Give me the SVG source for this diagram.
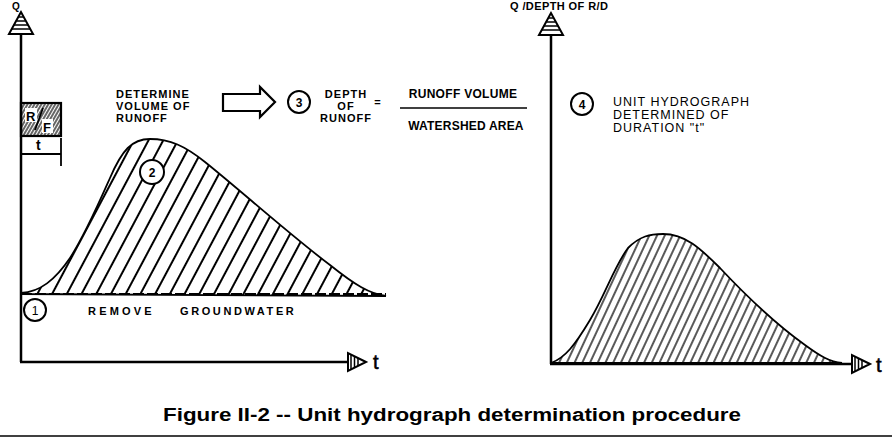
<svg xmlns="http://www.w3.org/2000/svg" width="892" height="437" viewBox="0 0 892 437">
<style>
.ax{stroke:#000;stroke-width:2.5;fill:none}
.ln{stroke:#000;stroke-width:1.8;fill:none}
.lb{font-family:"Liberation Sans",Arial,sans-serif;font-weight:bold;font-size:11px;fill:#000;letter-spacing:1px}
.cap{font-family:"Liberation Sans",Arial,sans-serif;font-weight:bold;font-size:18px;fill:#000}
.tt{font-family:"Liberation Sans",Arial,sans-serif;font-size:20px;fill:#000;stroke:#000;stroke-width:0.6}
.num{font-family:"Liberation Sans",Arial,sans-serif;font-weight:bold;font-size:12px;fill:#000}
.circ{fill:#fff;stroke:#000;stroke-width:2}
.curve{stroke:#000;stroke-width:1.8}
</style>
<defs>
<pattern id="h1" patternUnits="userSpaceOnUse" width="13" height="13" patternTransform="rotate(28)">
<line x1="2" y1="0" x2="2" y2="13" stroke="#000" stroke-width="2"/>
</pattern>
<pattern id="h2" patternUnits="userSpaceOnUse" width="7" height="7" patternTransform="rotate(25)">
<line x1="2" y1="0" x2="2" y2="7" stroke="#000" stroke-width="1.3"/>
</pattern>
<pattern id="h3" patternUnits="userSpaceOnUse" width="3" height="3" patternTransform="rotate(30)">
<line x1="1" y1="0" x2="1" y2="3" stroke="#000" stroke-width="1.2"/>
</pattern>
<g id="upArrow">
<polygon points="0,-22 -12,0 12,0" fill="#fff" stroke="#000" stroke-width="2"/>
<line x1="-2" y1="-17" x2="2" y2="-17" stroke="#000" stroke-width="1.5"/>
<line x1="-4" y1="-13" x2="4" y2="-13" stroke="#000" stroke-width="1.5"/>
<line x1="-7" y1="-9" x2="7" y2="-9" stroke="#000" stroke-width="1.5"/>
<line x1="-9" y1="-5" x2="9" y2="-5" stroke="#000" stroke-width="1.5"/>
</g>
<g id="rightArrow">
<polygon points="18,0 0,-9 0,9" fill="#fff" stroke="#000" stroke-width="2"/>
<line x1="3" y1="-7" x2="3" y2="7" stroke="#000" stroke-width="1.5"/>
<line x1="6.5" y1="-5.5" x2="6.5" y2="5.5" stroke="#000" stroke-width="1.5"/>
<line x1="10" y1="-4" x2="10" y2="4" stroke="#000" stroke-width="1.5"/>
</g>
</defs>
<rect width="892" height="437" fill="#fff"/>

<g id="left-axes">
<line class="ax" x1="21" y1="34" x2="21" y2="362"/>
<line class="ax" x1="20" y1="362" x2="348" y2="362"/>
<use href="#upArrow" x="21" y="34"/>
<use href="#rightArrow" x="348" y="362"/>
<text x="16" y="10" class="lb" text-anchor="middle" style="font-size:10px;letter-spacing:0">Q</text>
<text x="373" y="369" class="tt">t</text>
</g>

<g id="rf-box">
<rect x="21" y="103" width="40" height="33" fill="url(#h3)" stroke="#000" stroke-width="2.2"/>
<rect x="25" y="108" width="12" height="14" fill="#fff"/>
<rect x="42" y="119" width="11" height="14" fill="#fff"/>
<text x="26" y="121" class="num" style="font-size:13px">R</text>
<text x="43" y="132" class="num" style="font-size:13px">F</text>
<line x1="35" y1="130" x2="43" y2="108" stroke="#000" stroke-width="1.8"/>
<line class="ln" x1="61" y1="138" x2="61" y2="166"/>
<line class="ln" x1="21" y1="154" x2="61" y2="154"/>
<text x="36" y="150" class="num" style="font-size:14px">t</text>
</g>

<g id="left-hydrograph">
<path d="M21,293 C40,292 55,280 70,258 C85,235 98,205 110,178 C122,150 132,139 150,139 C170,139 185,146 205,162 C240,190 290,235 330,265 C355,285 370,294 386,296 L21,294 Z" fill="url(#h1)" class="curve"/>
<line x1="21" y1="294" x2="386" y2="294" stroke="#000" stroke-width="2.2" stroke-dasharray="11,3"/>
</g>

<g id="step1">
<circle cx="35" cy="310" r="11" class="circ"/>
<text x="35" y="315" class="num" text-anchor="middle" style="font-weight:normal">1</text>
<text x="88" y="315" class="lb" style="letter-spacing:3.2px">REMOVE</text>
<text x="180" y="315" class="lb" style="letter-spacing:2.6px">GROUNDWATER</text>
</g>

<g id="step2">
<circle cx="152" cy="172" r="12" class="circ"/>
<text x="152" y="177" class="num" text-anchor="middle">2</text>
<text x="116" y="98" class="lb">DETERMINE</text>
<text x="116" y="110" class="lb">VOLUME OF</text>
<text x="116" y="122" class="lb">RUNOFF</text>
</g>

<g id="block-arrow">
<polygon points="223,94 260,94 260,87 275,102 260,117 260,111 223,111" fill="#fff" stroke="#000" stroke-width="2.2" stroke-linejoin="miter"/>
</g>

<g id="step3">
<circle cx="299" cy="102" r="11" class="circ"/>
<text x="299" y="107" class="num" text-anchor="middle">3</text>
<text x="346" y="98" class="lb" text-anchor="middle">DEPTH</text>
<text x="346" y="110" class="lb" text-anchor="middle">OF</text>
<text x="346" y="122" class="lb" text-anchor="middle">RUNOFF</text>
<text x="378" y="106" class="lb" text-anchor="middle">=</text>
<text x="463" y="98" class="lb" text-anchor="middle" style="font-size:12px;letter-spacing:0.3px">RUNOFF VOLUME</text>
<line x1="400" y1="108" x2="527" y2="108" stroke="#000" stroke-width="1.5"/>
<text x="466" y="130" class="lb" text-anchor="middle" style="font-size:12px;letter-spacing:0.2px">WATERSHED AREA</text>
</g>

<g id="right-axes">
<line class="ax" x1="551" y1="35" x2="551" y2="364"/>
<line class="ax" x1="550" y1="364" x2="852" y2="364"/>
<use href="#upArrow" x="551" y="35"/>
<use href="#rightArrow" x="852" y="364"/>
<text x="510" y="10" class="lb" style="font-size:11px;letter-spacing:0.4px">Q /DEPTH OF R/D</text>
<text x="876" y="372" class="tt">t</text>
</g>

<g id="step4">
<circle cx="582" cy="104" r="11" class="circ"/>
<text x="582" y="109" class="num" text-anchor="middle">4</text>
<text x="613" y="106" class="lb" style="font-weight:normal;font-size:12.5px">UNIT HYDROGRAPH</text>
<text x="613" y="119" class="lb" style="font-weight:normal;font-size:12.5px">DETERMINED OF</text>
<text x="613" y="132" class="lb" style="font-weight:normal;font-size:12.5px">DURATION "t"</text>
</g>

<g id="unit-hydrograph">
<path d="M551,363 C565,358 575,345 590,320 C605,295 615,265 628,248 C640,236 650,234 663,234 C685,234 700,248 720,268 C750,300 780,327 805,345 C820,356 830,362 842,363 Z" fill="url(#h2)" class="curve"/>
</g>

<text x="452" y="421" class="cap" text-anchor="middle" textLength="578" lengthAdjust="spacingAndGlyphs">Figure II-2 -- Unit hydrograph determination procedure</text>
<line x1="0" y1="436" x2="892" y2="436" stroke="#000" stroke-width="1.5"/>
</svg>
